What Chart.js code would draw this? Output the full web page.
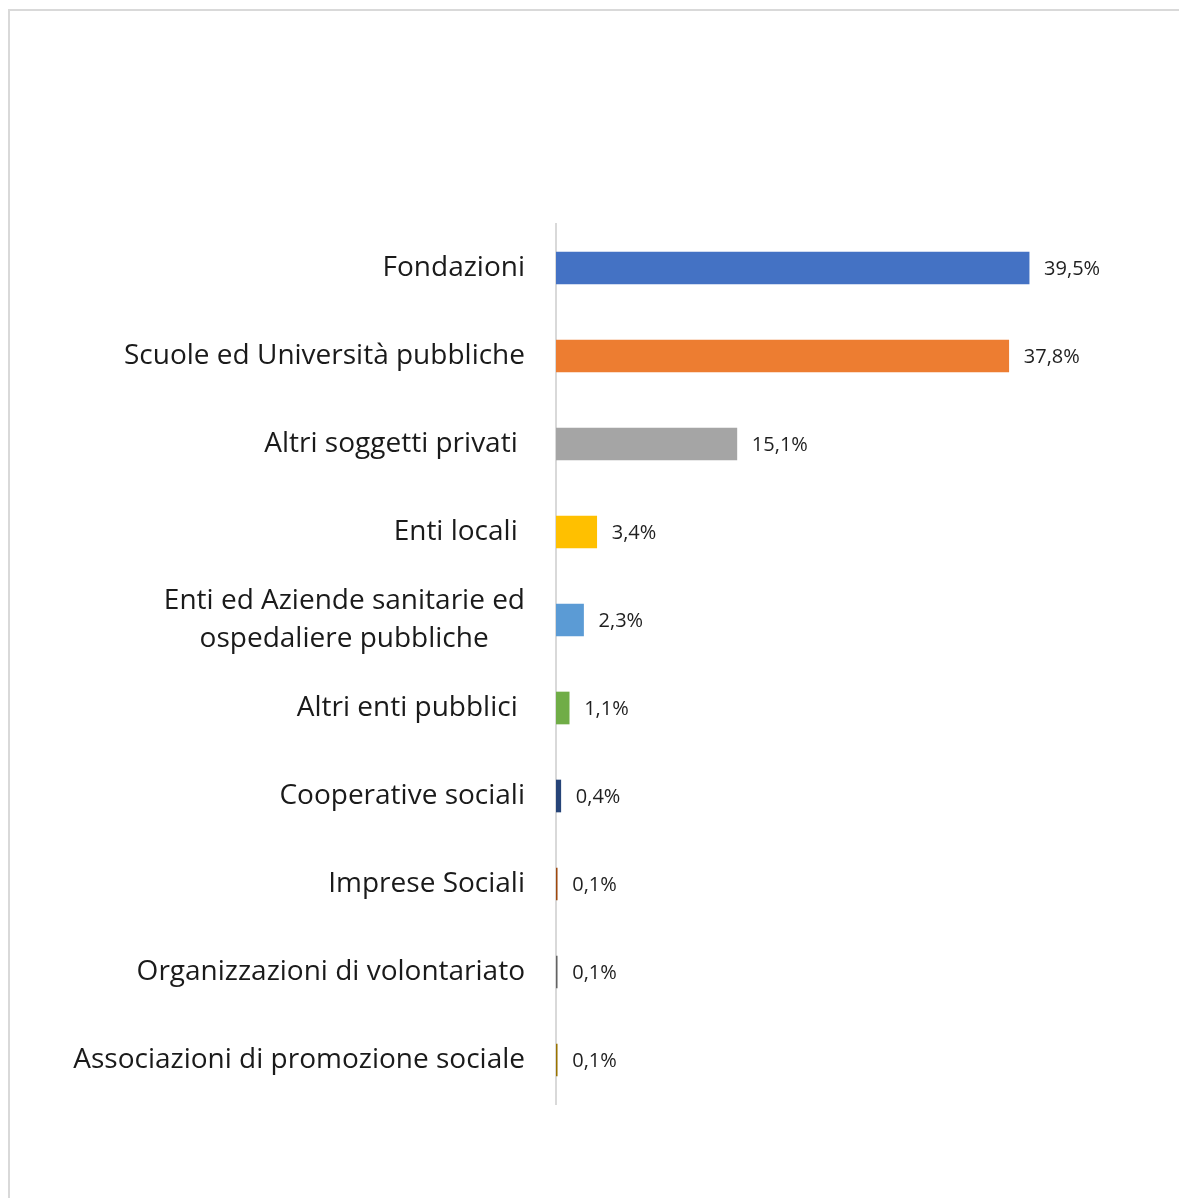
<!DOCTYPE html>
<html>
<head>
<meta charset="utf-8">
<script src="https://cdn.jsdelivr.net/npm/chart.js@4"></script>
<style>
  html, body { margin: 0; padding: 0; background: #ffffff; overflow: hidden; }
  #frame { position: absolute; left: 8px; top: 9px; width: 1300px; height: 1300px; border-left: 2px solid #d9d9d9; border-top: 2px solid #d9d9d9; }
  #wrap { position: absolute; left: 0; top: 0; width: 1179px; height: 1198px; }
</style>
</head>
<body>
<div id="frame"></div>
<div id="wrap"><canvas id="c" width="1179" height="1198"></canvas></div>
<script>
const categories = [
  "Fondazioni",
  "Scuole ed Università pubbliche",
  "Altri soggetti privati ",
  "Enti locali ",
  ["Enti ed Aziende sanitarie ed", "ospedaliere pubbliche     "],
  "Altri enti pubblici ",
  "Cooperative sociali",
  "Imprese Sociali",
  "Organizzazioni di volontariato",
  "Associazioni di promozione sociale"
];
const values = [39.5, 37.8, 15.1, 3.4, 2.3, 1.1, 0.4, 0.1, 0.1, 0.1];
const valueLabels = ["39,5%", "37,8%", "15,1%", "3,4%", "2,3%", "1,1%", "0,4%", "0,1%", "0,1%", "0,1%"];
const barColors = ["#4472C4", "#ED7D31", "#A5A5A5", "#FFC000", "#5B9BD5", "#70AD47", "#264478", "#9E480E", "#636363", "#997300"];

const FONT = "'Open Sans', 'Noto Sans', sans-serif";

const valueLabelPlugin = {
  id: 'valueLabels',
  afterDatasetsDraw(chart) {
    const ctx = chart.ctx;
    const meta = chart.getDatasetMeta(0);
    ctx.save();
    ctx.font = "20px " + FONT;
    ctx.fillStyle = "#1f1f1f";
    ctx.textAlign = "left";
    ctx.textBaseline = "middle";
    meta.data.forEach((bar, i) => {
      ctx.fillText(valueLabels[i], bar.x + 15, bar.y + 1);
    });
    ctx.restore();
  }
};

new Chart(document.getElementById('c'), {
  type: 'bar',
  data: {
    labels: categories,
    datasets: [{
      data: values,
      backgroundColor: barColors,
      borderWidth: 0,
      barThickness: 32
    }]
  },
  options: {
    indexAxis: 'y',
    responsive: false,
    animation: false,
    devicePixelRatio: 1,
    layout: { padding: { left: 0, right: 84, top: 224, bottom: 94 } },
    plugins: {
      legend: { display: false },
      tooltip: { enabled: false }
    },
    scales: {
      x: {
        display: false,
        min: 0,
        max: 45
      },
      y: {
        grid: { display: false, drawTicks: false },
        border: { display: true, color: '#d9d9d9', width: 2 },
        ticks: {
          color: '#1a1a1a',
          font: { family: FONT, size: 28, lineHeight: 1.35 },
          padding: 31,
          autoSkip: false
        },
        afterFit(scale) { scale.width = 556; }
      }
    }
  },
  plugins: [valueLabelPlugin]
});
</script>
</body>
</html>
